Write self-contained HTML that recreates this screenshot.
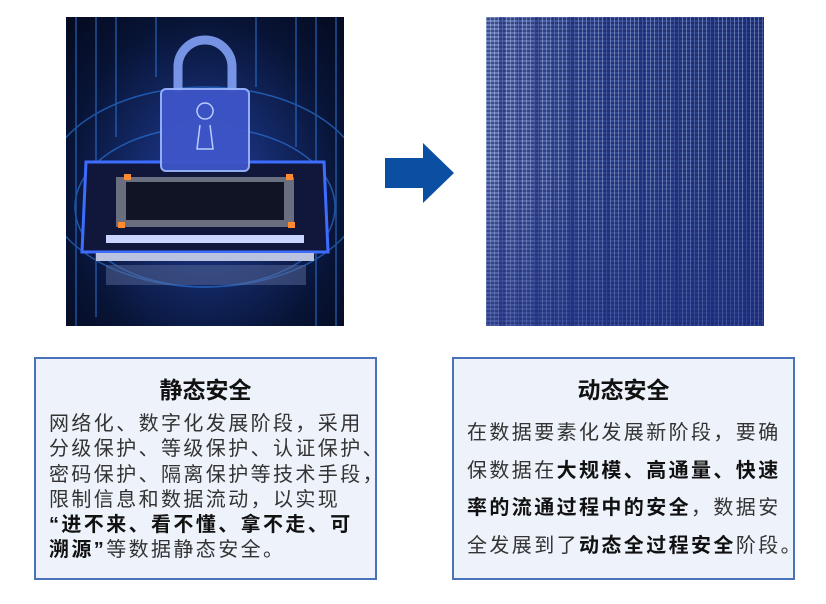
<!DOCTYPE html>
<html><head><meta charset="utf-8"><style>
body{margin:0;width:826px;height:604px;background:#fff;position:relative;overflow:hidden;font-family:"Liberation Sans","Noto Sans CJK SC",sans-serif}
.img1{position:absolute;left:66px;top:17px;width:278px;height:309px;overflow:hidden;
background:radial-gradient(ellipse at 50% 55%,#2a3f9a 0%,#142a6a 35%,#081436 70%,#040a1e 100%)}
.img2{position:absolute;left:486px;top:17px;width:278px;height:309px;overflow:hidden;
background:linear-gradient(90deg,#6a7fbd 0%,#3a509a 30%,#2f4690 60%,#243a82 100%)}
.dots{position:absolute;inset:0;
background-image:repeating-linear-gradient(90deg,rgba(210,225,255,.35) 0 1px,transparent 1px 4px),
repeating-linear-gradient(0deg,transparent 0 2px,rgba(20,30,90,.5) 2px 4px);}
.bands{position:absolute;inset:0;background:repeating-linear-gradient(90deg,rgba(25,40,120,0) 0 13px,rgba(25,40,120,.45) 13px 19px,rgba(25,40,120,0) 19px 31px,rgba(25,40,120,.3) 31px 35px)}
.fade{position:absolute;inset:0;background:linear-gradient(180deg,rgba(30,45,130,0) 0%,rgba(30,45,130,0) 50%,rgba(30,45,130,.5) 100%)}
.box{position:absolute;top:357px;width:339px;height:219px;border:2px solid #4a72b8;background:#eef3fb}
.t{text-align:center;font-weight:bold;font-size:23px;color:#111;margin-top:12px}
.p{font-size:20px;color:#333;letter-spacing:2.4px;padding-left:13px;white-space:nowrap}
b{color:#111}
</style></head><body>
<div class="img1">
<svg width="278" height="309" viewBox="0 0 278 309">
<g stroke="#2c7ee8" stroke-width="1.5" opacity=".6" fill="none">
<path d="M10 0V309M30 0V300M50 0V120M230 0V130M250 0V309M270 0V309M90 0V60M190 0V70"/>
<ellipse cx="139" cy="170" rx="160" ry="100"/><ellipse cx="139" cy="190" rx="130" ry="80"/>
</g>
<path d="M20 145 L258 145 L262 235 L16 235Z" fill="#10173a" stroke="#3d6cff" stroke-width="3"/>
<rect x="50" y="160" width="178" height="50" fill="#6a6f80"/>
<rect x="60" y="165" width="158" height="38" fill="#101424"/>
<rect x="40" y="218" width="198" height="8" fill="#c9d4ff"/>
<rect x="30" y="236" width="218" height="8" fill="#b9c3e0"/>
<g fill="#5a6a9a"><rect x="40" y="248" width="200" height="20" opacity=".5"/></g>
<path d="M112 75 V50 a27 27 0 0 1 54 0 V75" stroke="#8aa8ff" stroke-width="9" fill="none" opacity=".85"/>
<rect x="95" y="72" width="88" height="82" rx="5" fill="#3d55c8" stroke="#9ab4ff" stroke-width="2" opacity=".95"/>
<path d="M139 102 a8 8 0 1 1 0.1 0 M134 108 L131 132 H147 L144 108" fill="none" stroke="#b9ccff" stroke-width="1.5"/>
<g fill="#ff8a30"><rect x="58" y="157" width="7" height="6"/><rect x="220" y="157" width="7" height="6"/><rect x="52" y="205" width="7" height="6"/><rect x="222" y="205" width="7" height="6"/></g>
</svg></div>
<svg style="position:absolute;left:385px;top:143px" width="70" height="60"><path d="M0 15H38V0L69 30L38 60V45H0Z" fill="#0b4fa3"/></svg>
<div class="img2"><div class="dots"></div><div class="bands"></div><div class="fade"></div></div>
<div class="box" style="left:34px">
<div class="t">静态安全</div>
<div class="p" style="margin-top:7px;line-height:25.3px">网络化、数字化发展阶段，采用<br>分级保护、等级保护、认证保护、<br>密码保护、隔离保护等技术手段，<br>限制信息和数据流动，以实现<br><b>“进不来、看不懂、拿不走、可<br>溯源”</b>等数据静态安全。</div>
</div>
<div class="box" style="left:452px">
<div class="t">动态安全</div>
<div class="p" style="margin-top:10px;line-height:37.7px">在数据要素化发展新阶段，要确<br>保数据在<b>大规模、高通量、快速<br>率的流通过程中的安全</b>，数据安<br>全发展到了<b>动态全过程安全</b>阶段。</div>
</div>
</body></html>
